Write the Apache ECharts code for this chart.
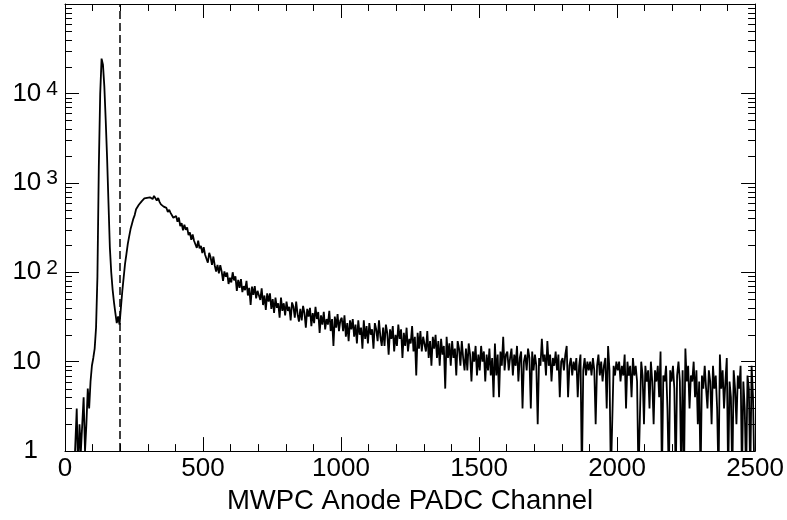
<!DOCTYPE html>
<html><head><meta charset="utf-8">
<script src="https://cdn.jsdelivr.net/npm/echarts@6/dist/echarts.min.js"></script>
<style>html,body{margin:0;padding:0;background:#fff}#c{width:787px;height:520px}</style>
</head><body><div id="c"></div>
<script>
// Histogram: counts per 5-channel bin (bin i covers channels [5i, 5i+5))
const binWidth = 5;
const counts = [
0,0,0,0,0,0,0,0,3,0, 2,1,2,4,1,2,5,3,6,9,
11,14,24,90,1500,9800,24500,21000,12000,5000, 1900,600,190,100,64,46,35,27,32,26,
40,61,87,124,160,208,252,304,346,396, 436,507,526,569,560,621,617,669,645,680,
715,689,706,659,715,683,634,676,613,574, 592,542,566,524,472,499,461,466,407,417,
426,367,408,329,353,295,341,299,318,260, 279,231,265,225,228,187,225,185,197,164,
191,157,162,128,165,147,121,150,119,102, 121,97,120,102,80,102,89,99,74,87,
77,100,81,90,62,82,67,84,60,70, 63,80,55,67,43,69,56,70,51,62,
64,49,66,43,55,38,58,47,58,39, 50,35,52,40,45,31,52,37,45,33,
47,37,41,29,46,41,31,47,34,28, 39,29,42,35,24,39,32,40,25,35,
27,41,30,36,21,33,26,36,23,30, 26,37,22,30,15,32,24,34,22,29,
31,22,33,19,27,17,29,23,30,19, 26,16,29,20,24,14,29,18,25,16,
27,20,23,14,27,23,17,29,19,15, 24,15,26,21,12,23,18,25,13,20,
15,26,18,23,11,21,15,24,13,18, 16,25,13,19,7,21,14,22,13,19,
20,13,22,11,17,9,19,14,20,11, 17,9,18,12,15,5,19,11,16,9,
17,11,14,7,17,14,9,17,11,8, 14,8,16,12,6,13,10,15,7,12,
8,15,10,13,6,12,8,14,7,11, 4,16,7,12,4,13,9,19,8,12,
13,8,11,14,7,12,9,15,6,11, 13,3,10,12,8,14,11,3,13,8,
12,9,2,11,9,18,10,12,7,17, 9,12,6,11,9,13,8,12,4,10,
11,8,12,15,4,9,11,7,10,8, 11,4,9,12,0,8,11,7,10,8,
10,7,11,8,2,9,12,7,10,6, 9,11,3,15,8,0,0,9,7,10,
8,10,6,9,7,12,3,10,7,9, 4,11,7,9,6,0,0,10,7,2,
9,6,8,3,10,6,2,8,6,9, 4,13,0,7,6,9,3,0,8,6,
9,5,0,7,10,6,0,8,0,14, 6,9,3,7,6,10,4,8,2,6,
0,7,5,9,5,3,8,6,2,9, 5,7,3,0,12,5,8,3,6,11,
0,6,4,0,8,5,2,7,5,9, 0,6,3,0,7,5,0,9,4,0
];
const cutChannel = 200;              // dashed vertical line
const xRange = [0, 2500];
const xTickStep = 500;
const yRange = [1, 100000];
const yDecadeLabels = {1:'1', 10:'10', 100:'2', 1000:'3', 10000:'4'};
const xTitle = 'MWPC Anode PADC Channel';
const EMPTY_FLOOR = 0.5;             // empty bins drawn below the log-axis floor (clipped)

const FONT = '"Liberation Sans", Arial, Helvetica, sans-serif';

const lineData = counts.map((c, i) => [i * binWidth + binWidth / 2, c > 0 ? c : EMPTY_FLOOR]);

const minorY = [];
for (let d = 1; d < yRange[1]; d *= 10) for (let m = 2; m <= 9; m++) minorY.push([0, m * d]);

const chart = echarts.init(document.getElementById('c'), null, {renderer: 'canvas'});

const xCommon = {
  type: 'value', min: xRange[0], max: xRange[1], interval: xTickStep,
  axisLine: {show: true, onZero: false, lineStyle: {color: '#000', width: 1}},
  axisTick: {show: true, inside: true, length: 14, lineStyle: {color: '#000', width: 1}},
  minorTick: {show: true, splitNumber: 5, length: 7, lineStyle: {color: '#000', width: 1}},
  splitLine: {show: false}, minorSplitLine: {show: false}
};
const yCommon = {
  type: 'log', logBase: 10, min: yRange[0], max: yRange[1],
  axisLine: {show: true, onZero: false, lineStyle: {color: '#000', width: 1}},
  axisTick: {show: true, inside: true, length: 14, lineStyle: {color: '#000', width: 1}},
  minorTick: {show: false},
  splitLine: {show: false}, minorSplitLine: {show: false}
};

chart.setOption({
  animation: false,
  backgroundColor: '#fff',
  grid: {left: 65, right: 31, top: 4, bottom: 67, containLabel: false},
  xAxis: [
    Object.assign({}, xCommon, {
      position: 'bottom',
      axisLabel: {color: '#000', fontSize: 26, fontFamily: FONT, margin: 5,
        formatter: function (v) { return String(v); }},
      name: xTitle, nameLocation: 'middle', nameGap: 32,
      nameTextStyle: {color: '#000', fontSize: 27.5, fontFamily: FONT}
    }),
    Object.assign({}, xCommon, {position: 'top', axisLabel: {show: false}})
  ],
  yAxis: [
    Object.assign({}, yCommon, {
      position: 'left',
      axisLabel: {
        margin: 7, color: '#000', fontFamily: FONT,
        formatter: function (v) {
          const k = Math.round(v);
          if (k === 1) return '{b|1}{p1| }';
          if (k === 10) return '{b|10}{p2| }';
          if (yDecadeLabels[k]) return '{b|10}{s|' + yDecadeLabels[k] + '}';
          return '';
        },
        rich: {
          b: {fontSize: 26, fontFamily: FONT, color: '#000', lineHeight: 30},
          s: {fontSize: 21, fontFamily: FONT, color: '#000', padding: [0, 0, 0, 5], verticalAlign: 'top', lineHeight: 20},
          p1: {fontSize: 26, width: 20},
          p2: {fontSize: 26, width: 17}
        }
      }
    }),
    Object.assign({}, yCommon, {position: 'right', axisLabel: {show: false}})
  ],
  series: [
    {
      type: 'line', xAxisIndex: 0, yAxisIndex: 0,
      data: lineData, showSymbol: false, symbol: 'none', clip: true,
      lineStyle: {color: '#000', width: 1.8}, silent: true,
      markLine: {
        silent: true, symbol: ['none', 'none'], animation: false,
        label: {show: false},
        lineStyle: {color: '#000', type: [8, 4], width: 1.5},
        data: [{xAxis: cutChannel}]
      }
    },
    {
      type: 'custom', xAxisIndex: 0, yAxisIndex: 0, silent: true, clip: false,
      data: minorY, encode: {x: 0, y: 1},
      renderItem: function (params, api) {
        const v = api.value(1);
        const pl = api.coord([xRange[0], v]);
        const pr = api.coord([xRange[1], v]);
        const yl = Math.round(pl[1]) + 0.5;
        return {type: 'group', children: [
          {type: 'line', shape: {x1: pl[0], y1: yl, x2: pl[0] + 7, y2: yl}, style: {stroke: '#000', lineWidth: 1}},
          {type: 'line', shape: {x1: pr[0] - 7, y1: yl, x2: pr[0], y2: yl}, style: {stroke: '#000', lineWidth: 1}}
        ]};
      }
    }
  ]
});
</script></body></html>
